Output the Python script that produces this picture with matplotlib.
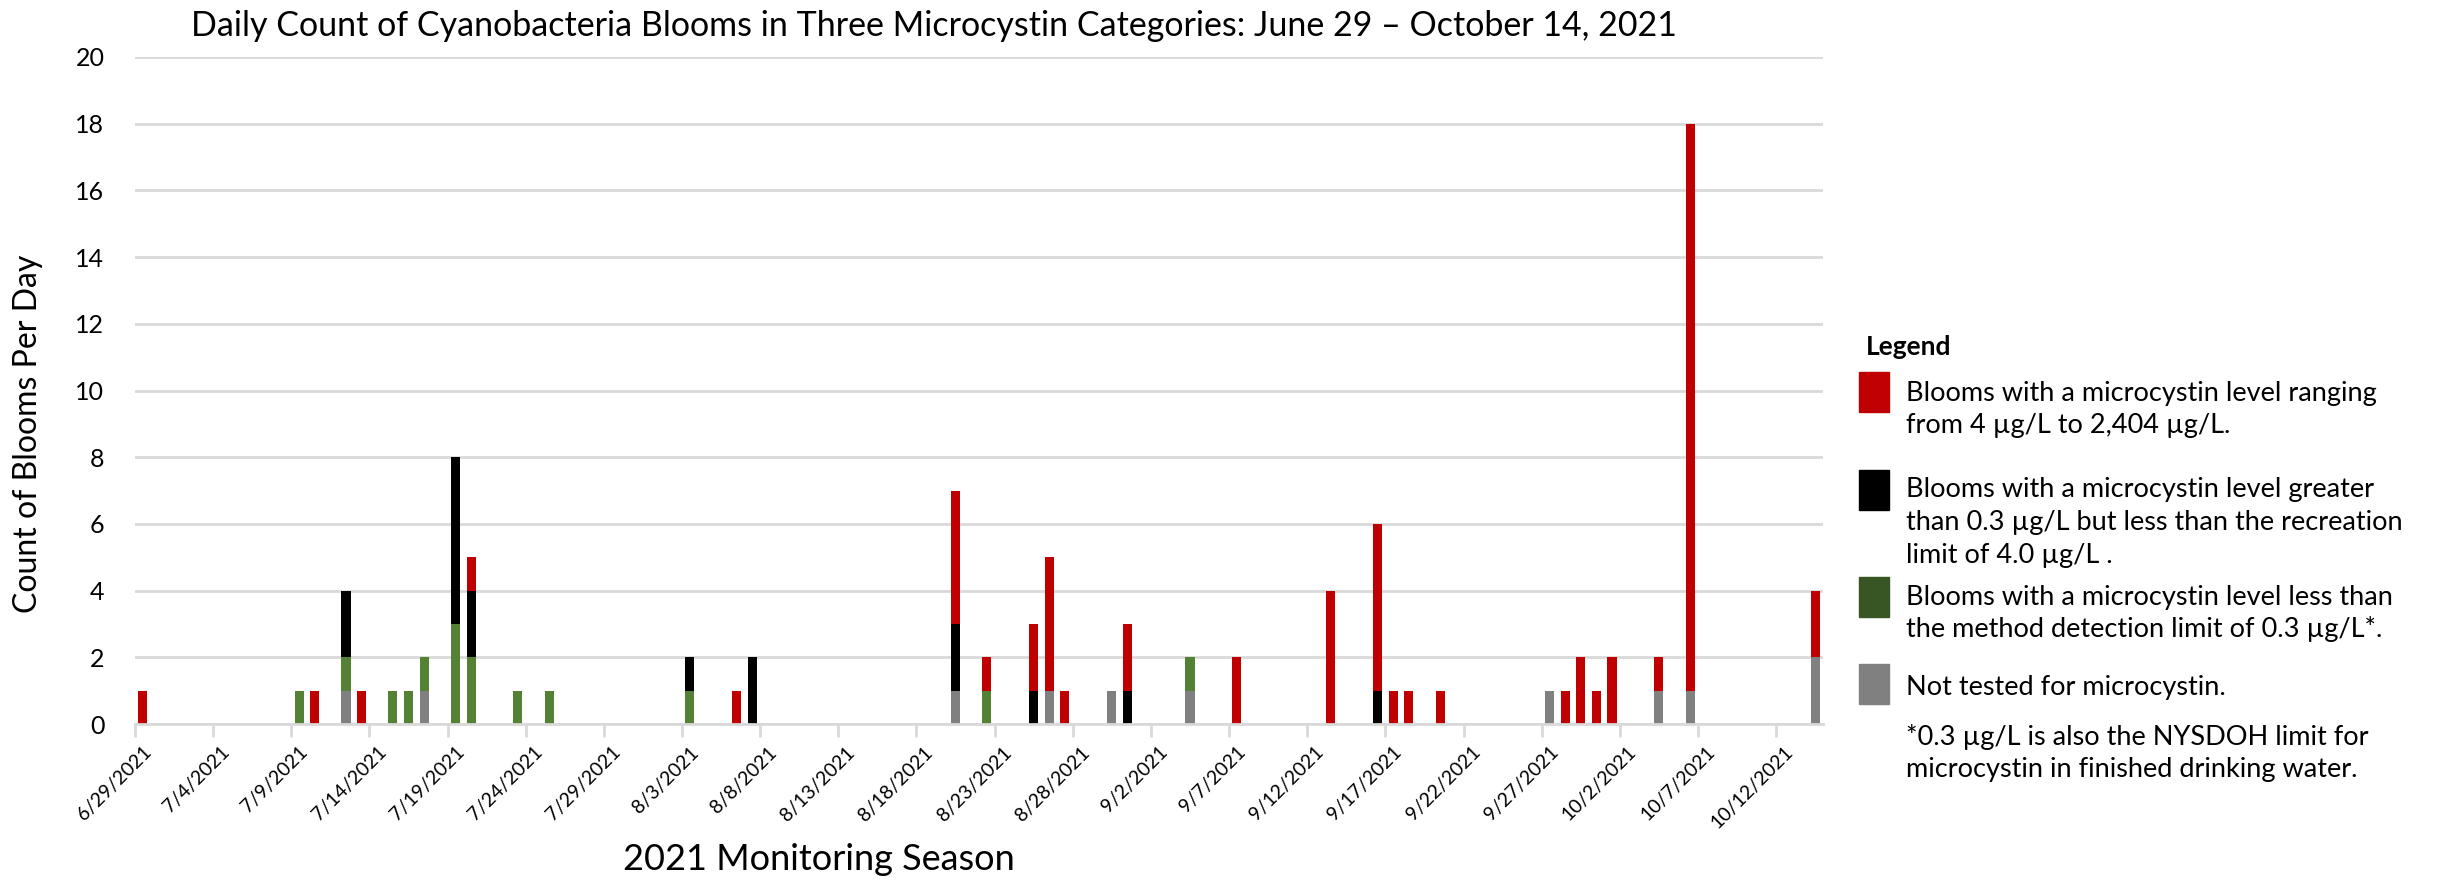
import matplotlib
matplotlib.use("Agg")
import matplotlib.pyplot as plt
from matplotlib.patches import Rectangle
import numpy as np
import pandas as pd

# data: bloom days only, every other day of the season is zero
bloom_dates = ["6/29", "7/9", "7/10", "7/12", "7/13", "7/15", "7/16", "7/17",
               "7/19", "7/20", "7/23", "7/25", "8/3", "8/6", "8/7", "8/20",
               "8/22", "8/25", "8/26", "8/27", "8/30", "8/31", "9/4", "9/7",
               "9/13", "9/16", "9/17", "9/18", "9/20", "9/27", "9/28", "9/29",
               "9/30", "10/1", "10/4", "10/6", "10/14"]
not_tested = [0, 0, 0, 1, 0, 0, 0, 1, 0, 0, 0, 0, 0, 0, 0, 1, 0, 0, 1, 0, 1, 0,
              1, 0, 0, 0, 0, 0, 0, 1, 0, 0, 0, 0, 1, 1, 2]
below_mdl = [0, 1, 0, 1, 0, 1, 1, 1, 3, 2, 1, 1, 1, 0, 0, 0, 1, 0, 0, 0, 0, 0,
             1, 0, 0, 0, 0, 0, 0, 0, 0, 0, 0, 0, 0, 0, 0]
below_rec = [0, 0, 0, 2, 0, 0, 0, 0, 5, 2, 0, 0, 1, 0, 2, 2, 0, 1, 0, 0, 0, 1,
             0, 0, 0, 1, 0, 0, 0, 0, 0, 0, 0, 0, 0, 0, 0]
above_rec = [1, 0, 1, 0, 1, 0, 0, 0, 0, 1, 0, 0, 0, 1, 0, 4, 1, 2, 4, 1, 0, 2,
             0, 2, 4, 5, 1, 1, 1, 0, 1, 2, 1, 2, 1, 17, 2]

season = pd.date_range("2021-06-29", "2021-10-14", freq="D")
df = pd.DataFrame({"gray": not_tested, "green": below_mdl,
                   "black": below_rec, "red": above_rec},
                  index=pd.to_datetime([d + "/2021" for d in bloom_dates], format="%m/%d/%Y"))
df = df.reindex(season, fill_value=0)
day_labels = [f"{d.month}/{d.day}/{d.year}" for d in season]

RED = "#C00000"
BLACK = "#000000"
GREEN = "#548235"
GREEN_LEG = "#375623"
GRAY = "#808080"
GRID = "#D9D9D9"

plt.rcParams["font.family"] = ["Lato", "DejaVu Sans"]

W, H = 2450, 889
fig = plt.figure(figsize=(W / 100, H / 100), dpi=100)
ax = fig.add_axes([135 / W, 1 - 724 / H, (1823 - 135) / W, (724 - 57) / H])

x = np.arange(len(season))
bottom = np.zeros(len(season))
for col, colr in [("gray", GRAY), ("green", GREEN), ("black", BLACK), ("red", RED)]:
    ax.bar(x, df[col].values, bottom=bottom, width=0.58, color=colr, zorder=3)
    bottom += df[col].values

ax.set_xlim(-0.5, len(season) - 0.5)
ax.set_ylim(0, 20)
ax.set_yticks(range(0, 21, 2))
ax.grid(axis="y", color=GRID, linewidth=2, zorder=0)
for s in ["top", "right", "left"]:
    ax.spines[s].set_visible(False)
ax.spines["bottom"].set_color(GRID)
ax.spines["bottom"].set_linewidth(2)
ax.spines["bottom"].set_zorder(4)

# labels every 5 days, tick marks on category boundaries
ax.set_xticks(x[::5])
ax.set_xticklabels(day_labels[::5], rotation=45, ha="right", rotation_mode="anchor", fontsize=14)
ax.set_xticks(np.arange(-0.5, len(season) - 1, 5), minor=True)
ax.tick_params(axis="x", which="major", length=0, pad=14)
ax.tick_params(axis="x", which="minor", length=9, width=2, color=GRID)
ax.tick_params(axis="y", length=0, pad=22, labelsize=18)

fig.text(28 / W, 1 - 434 / H, "Count of Blooms Per Day", fontsize=23, rotation=90,
         ha="center", va="center")
fig.text(819 / W, 1 - 859 / H, "2021 Monitoring Season", fontsize=26, ha="center", va="center")
fig.text(934 / W, 1 - 26 / H,
         "Daily Count of Cyanobacteria Blooms in Three Microcystin Categories: June 29 \u2013 October 14, 2021",
         fontsize=24.5, ha="center", va="center")

# legend drawn by hand
fig.text(1866 / W, 1 - 347 / H, "Legend", fontsize=19, fontweight="bold", va="center")
legend_items = [
    (RED, 372, ["Blooms with a microcystin level ranging", "from 4 \u00b5g/L to 2,404 \u00b5g/L."], 393),
    (BLACK, 470, ["Blooms with a microcystin level greater",
                  "than 0.3 \u00b5g/L but less than the recreation", "limit of 4.0 \u00b5g/L ."], 490),
    (GREEN_LEG, 577, ["Blooms with a microcystin level less than",
                      "the method detection limit of 0.3 \u00b5g/L*."], 597),
    (GRAY, 664, ["Not tested for microcystin."], 688),
]
for colr, ytop, lines, ytxt in legend_items:
    fig.patches.append(Rectangle((1859 / W, 1 - (ytop + 40) / H), 30 / W, 40 / H,
                                 transform=fig.transFigure, color=colr))
    for k, line in enumerate(lines):
        fig.text(1906 / W, 1 - (ytxt + 32.5 * k) / H, line, fontsize=19.5, va="center")
fig.text(1906 / W, 1 - 737 / H, "*0.3 \u00b5g/L is also the NYSDOH limit for", fontsize=19.5, va="center")
fig.text(1906 / W, 1 - 770 / H, "microcystin in finished drinking water.", fontsize=19.5, va="center")

fig.savefig("out.png", dpi=100)
